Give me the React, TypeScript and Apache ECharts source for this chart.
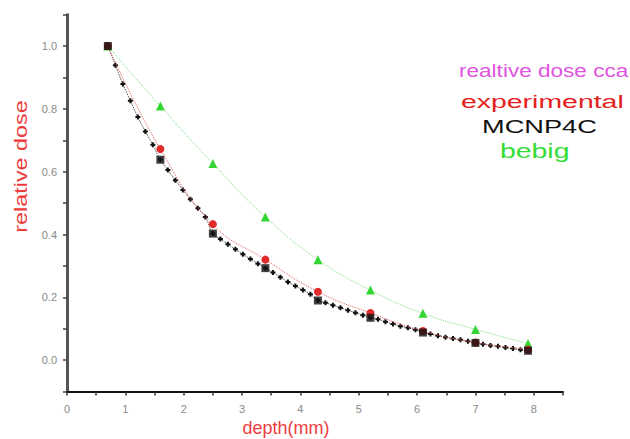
import React, { useEffect, useRef } from "react";
import * as echarts from "echarts";

// main depths (mm)
const depths = [0.7, 1.6, 2.5, 3.4, 4.3, 5.2, 6.1, 7.0, 7.9];
const experimental = [1.0, 0.672, 0.433, 0.32, 0.218, 0.15, 0.093, 0.056, 0.034];
const mcnp4c = [1.0, 0.638, 0.403, 0.293, 0.19, 0.135, 0.088, 0.055, 0.03];
const bebig = [1.0, 0.809, 0.626, 0.456, 0.32, 0.223, 0.149, 0.098, 0.053];

// dense MCNP4C profile (7 steps per 0.9 mm)
const denseDepths = [
  0.7, 0.829, 0.957, 1.086, 1.214, 1.343, 1.471,
  1.6, 1.729, 1.857, 1.986, 2.114, 2.243, 2.371,
  2.5, 2.629, 2.757, 2.886, 3.014, 3.143, 3.271,
  3.4, 3.529, 3.657, 3.786, 3.914, 4.043, 4.171,
  4.3, 4.429, 4.557, 4.686, 4.814, 4.943, 5.071,
  5.2, 5.329, 5.457, 5.586, 5.714, 5.843, 5.971,
  6.1, 6.229, 6.357, 6.486, 6.614, 6.743, 6.871,
  7.0, 7.129, 7.257, 7.386, 7.514, 7.643, 7.771,
  7.9,
];
const denseDose = [
  1.0, 0.939, 0.879, 0.826, 0.774, 0.728, 0.686,
  0.638, 0.605, 0.573, 0.542, 0.512, 0.484, 0.456,
  0.403, 0.386, 0.369, 0.353, 0.337, 0.322, 0.307,
  0.293, 0.279, 0.264, 0.249, 0.236, 0.223, 0.21,
  0.19, 0.183, 0.175, 0.167, 0.159, 0.151, 0.143,
  0.135, 0.13, 0.122, 0.115, 0.108, 0.103, 0.097,
  0.088, 0.083, 0.078, 0.073, 0.069, 0.065, 0.06,
  0.055, 0.051, 0.047, 0.044, 0.04, 0.037, 0.033,
  0.03,
];

const legendTexts = ["realtive dose cca", "experimental", "MCNP4C", "bebig"];
const xName = "depth(mm)";
const yName = "relative dose";

const pair = (xs: number[], ys: number[]) => xs.map((x, i) => [x, ys[i]]);

export default function App() {
  const ref = useRef<HTMLDivElement>(null);
  useEffect(() => {
    if (!ref.current) return;
    const chart = echarts.init(ref.current, undefined, { renderer: "svg" });
    chart.setOption({
      animation: false,
      backgroundColor: "#ffffff",
      grid: { left: 67, top: 14.6, width: 496, height: 377, containLabel: false },
      xAxis: {
        type: "value",
        min: 0,
        max: 8.5,
        interval: 0.5,
        axisLine: { onZero: false, lineStyle: { color: "#111", width: 2 } },
        axisTick: { show: true, length: 4, lineStyle: { color: "#333", width: 1.5 } },
        axisLabel: {
          color: "#8a8a8a",
          fontSize: 11,
          margin: 12,
          fontFamily: "Liberation Sans",
          formatter: (v: number) => (Math.abs(v - Math.round(v)) < 1e-6 ? String(Math.round(v)) : ""),
        },
        splitLine: { show: false },
      },
      yAxis: {
        type: "value",
        min: -0.1,
        max: 1.1,
        interval: 0.1,
        axisLine: { onZero: false, lineStyle: { color: "#555", width: 3 } },
        axisTick: { show: true, length: 4, lineStyle: { color: "#444", width: 1.5 } },
        axisLabel: {
          color: "#8a8a8a",
          fontSize: 11,
          margin: 10,
          fontFamily: "Liberation Sans",
          formatter: (v: number) => {
            const t = Math.round(v * 10);
            return t % 2 === 0 ? (t / 10).toFixed(1) : "";
          },
        },
        splitLine: { show: false },
      },
      series: [
        {
          name: "MCNP4C profile",
          type: "line",
          data: pair(denseDepths, denseDose),
          smooth: true,
          symbol: "path://M1.5,0H3.5V1.5H5V3.5H3.5V5H1.5V3.5H0V1.5H1.5Z",
          symbolSize: 5,
          itemStyle: { color: "#111" },
          lineStyle: { color: "#333", width: 1, type: "dotted" },
          z: 2,
        },
        {
          name: "bebig",
          type: "line",
          data: pair(depths, bebig),
          smooth: true,
          symbol: "triangle",
          symbolSize: 9,
          itemStyle: { color: "#33d633" },
          lineStyle: { color: "#7ee07e", width: 1, type: "dotted" },
          z: 3,
        },
        {
          name: "experimental",
          type: "line",
          data: pair(depths, experimental),
          smooth: true,
          symbol: "circle",
          symbolSize: 8,
          itemStyle: { color: "#e22a2a" },
          lineStyle: { color: "#e06060", width: 1, type: "dotted" },
          z: 4,
        },
        {
          name: "MCNP4C",
          type: "scatter",
          data: pair(depths, mcnp4c),
          symbol: "rect",
          symbolSize: 8,
          itemStyle: { color: "#111" },
          z: 5,
        },
      ],
      graphic: [
        {
          type: "text",
          x: 21,
          y: 166.5,
          rotation: Math.PI / 2,
          scaleX: 1.3,
          style: {
            text: yName,
            fill: "#ee3b3b",
            fontSize: 18,
            fontFamily: "Liberation Sans",
            textAlign: "center",
            textVerticalAlign: "middle",
          },
        },
        {
          type: "text",
          x: 286,
          y: 428,
          style: {
            text: xName,
            fill: "#ee3b3b",
            fontSize: 18,
            fontFamily: "Liberation Sans",
            textAlign: "center",
            textVerticalAlign: "middle",
          },
        },
        {
          type: "text",
          x: 459,
          y: 70,
          scaleX: 1.22,
          style: {
            text: legendTexts[0],
            fill: "#e055e0",
            fontSize: 18.5,
            fontFamily: "Liberation Sans",
            textAlign: "left",
            textVerticalAlign: "middle",
          },
        },
        {
          type: "text",
          x: 461,
          y: 102,
          scaleX: 1.58,
          style: {
            text: legendTexts[1],
            fill: "#e52020",
            fontSize: 18,
            fontFamily: "Liberation Sans",
            textAlign: "left",
            textVerticalAlign: "middle",
          },
        },
        {
          type: "text",
          x: 482,
          y: 127,
          scaleX: 1.47,
          style: {
            text: legendTexts[2],
            fill: "#111111",
            fontSize: 18.5,
            fontFamily: "Liberation Sans",
            textAlign: "left",
            textVerticalAlign: "middle",
          },
        },
        {
          type: "text",
          x: 500,
          y: 151,
          scaleX: 1.42,
          style: {
            text: legendTexts[3],
            fill: "#33dd33",
            fontSize: 20,
            fontFamily: "Liberation Sans",
            textAlign: "left",
            textVerticalAlign: "middle",
          },
        },
      ],
    });
    return () => chart.dispose();
  }, []);
  return <div ref={ref} style={{ width: 630, height: 439, position: "fixed", left: 0, top: 0 }} />;
}
